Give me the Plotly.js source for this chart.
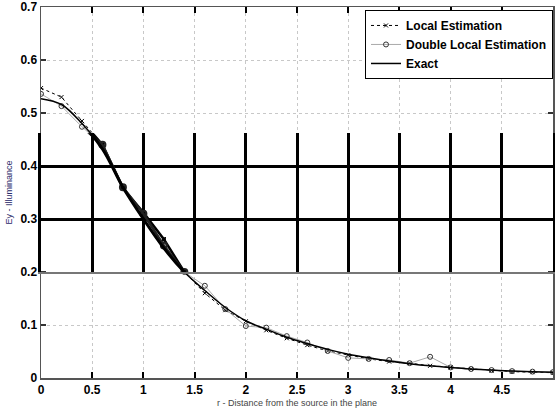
<!DOCTYPE html>
<html>
<head>
<meta charset="utf-8">
<script src="https://cdn.plot.ly/plotly-3.0.1.min.js"></script>
<style>html,body{margin:0;padding:0;background:#fff;}#chart{width:555px;height:417px;}</style>
</head>
<body>
<div id="chart"></div>
<script>
// Distance from the source (x values)
const distance = [0,0.2,0.4,0.6,0.8,1.0,1.2,1.4,1.6,1.8,2.0,2.2,2.4,2.6,2.8,3.0,3.2,3.4,3.6,3.8,4.0,4.2,4.4,4.6,4.8,5.0];
// Series values
const localEstimation = [0.547,0.530,0.485,0.440,0.358,0.312,0.262,0.200,0.160,0.128,0.107,0.090,0.075,0.062,0.051,0.043,0.036,0.031,0.028,0.023,0.020,0.017,0.014,0.012,0.011,0.010];
const doubleLocalEstimation = [0.536,0.513,0.474,0.440,0.360,0.310,0.250,0.200,0.174,0.130,0.098,0.095,0.079,0.067,0.051,0.038,0.036,0.034,0.028,0.040,0.020,0.017,0.015,0.013,0.012,0.011];
const exact = [0.527,0.516,0.480,0.432,0.360,0.300,0.245,0.200,0.165,0.133,0.108,0.092,0.077,0.065,0.054,0.045,0.038,0.032,0.027,0.023,0.020,0.017,0.015,0.013,0.012,0.011];
const seriesNames = ["Local Estimation","Double Local Estimation","Exact"];
const xTitle = "r - Distance from the source in the plane";
const yTitle = "Ey - Illuminance";

const FONT = "Liberation Sans, Arial, Helvetica, sans-serif";

const traces = [
  {x: distance, y: localEstimation, name: seriesNames[0], type: 'scatter', mode: 'lines+markers',
   line: {color: '#000', width: 1, dash: 'dot'},
   marker: {symbol: 'x-thin-open', size: 4, line: {width: 1, color: '#000'}, color: '#000'}},
  {x: distance, y: doubleLocalEstimation, name: seriesNames[1], type: 'scatter', mode: 'lines+markers',
   line: {color: '#aaaaaa', width: 1},
   marker: {symbol: 'circle-open', size: 5, line: {width: 1, color: '#333'}, color: '#333'}},
  {x: distance, y: exact, name: seriesNames[2], type: 'scatter', mode: 'lines',
   line: {color: '#000', width: 1.5, shape: 'spline'}},
  // bold overlay band (same data, second subplot)
  {x: distance, y: localEstimation, xaxis: 'x2', yaxis: 'y2', showlegend: false, type: 'scatter', mode: 'lines+markers',
   line: {color: '#000', width: 2.5}, marker: {symbol: 'square', size: 4, color: '#000'}},
  {x: distance, y: doubleLocalEstimation, xaxis: 'x2', yaxis: 'y2', showlegend: false, type: 'scatter', mode: 'lines+markers',
   line: {color: '#222', width: 2.5}, marker: {symbol: 'circle-open', size: 6, line: {width: 2, color: '#000'}}},
  {x: distance, y: exact, xaxis: 'x2', yaxis: 'y2', showlegend: false, type: 'scatter', mode: 'lines',
   line: {color: '#000', width: 3, shape: 'spline'}}
];

const layout = {
  width: 555, height: 417,
  margin: {l: 41, r: 2, t: 7, b: 39},
  paper_bgcolor: '#fff', plot_bgcolor: 'rgba(0,0,0,0)',
  font: {family: FONT, color: '#000'},
  showlegend: true,
  legend: {x: 1, xanchor: 'right', y: 0.992, yanchor: 'top',
    bgcolor: '#fff', bordercolor: '#000', borderwidth: 1,
    font: {family: FONT, size: 12, weight: 'bold', color: '#000'},
    itemwidth: 30, tracegroupgap: 0},
  xaxis: {range: [0, 5], dtick: 0.5, tick0: 0, ticks: 'inside', ticklen: 6, tickwidth: 2, tickcolor: '#000',
    showline: true, linecolor: '#555', linewidth: 1.5, mirror: 'ticks',
    showgrid: true, gridcolor: '#c8c8c8', griddash: 'dot', gridwidth: 1, zeroline: false,
    tickfont: {family: FONT, size: 12, weight: 'bold', color: '#000'},
    title: {text: xTitle, font: {family: FONT, size: 9, color: '#444'}, standoff: 4},
    automargin: false},
  yaxis: {range: [0, 0.7], dtick: 0.1, tick0: 0, ticks: 'inside', ticklen: 5, tickwidth: 1.5, tickcolor: '#333',
    showline: true, linecolor: '#555', linewidth: 1.5, mirror: 'ticks',
    showgrid: true, gridcolor: '#c8c8c8', griddash: 'dot', gridwidth: 1, zeroline: false,
    tickfont: {family: FONT, size: 12, weight: 'bold', color: '#000'},
    title: {text: yTitle, font: {family: FONT, size: 9, color: '#2a2a6a'}, standoff: 6},
    automargin: false},
  xaxis2: {range: [0, 5], domain: [0, 1], anchor: 'y2', dtick: 0.5, tick0: 0, showticklabels: false, ticks: '',
    showgrid: true, gridcolor: '#000', gridwidth: 3, zeroline: false,
    showline: true, linecolor: '#777', linewidth: 2},
  yaxis2: {range: [0.2, 0.462], domain: [0.2/0.7, 0.462/0.7], anchor: 'x2', tickvals: [0.3, 0.4],
    showticklabels: false, ticks: '', showgrid: true, gridcolor: '#000', gridwidth: 3, zeroline: false,
    showline: true, linecolor: '#000', linewidth: 3, mirror: true}
};

Plotly.newPlot('chart', traces, layout, {displayModeBar: false, staticPlot: true});
</script>
</body>
</html>
